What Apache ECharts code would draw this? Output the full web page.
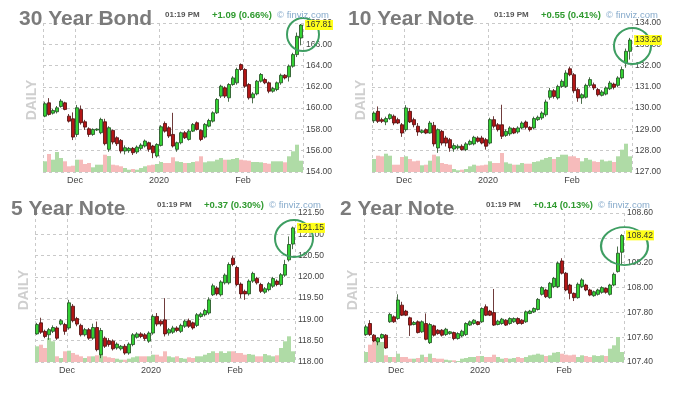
<!DOCTYPE html>
<html><head><meta charset="utf-8">
<script src="https://cdn.jsdelivr.net/npm/echarts@6/dist/echarts.min.js"></script>
<style>html,body{margin:0;padding:0;background:#fff}#c{width:673px;height:393px}</style>
</head><body><div id="c"></div>
<script>
// ---- trading days (category axis) ----
const dates = [
 '2019-11-18','2019-11-19','2019-11-20','2019-11-21','2019-11-22','2019-11-25','2019-11-26','2019-11-27',
 '2019-12-02','2019-12-03','2019-12-04','2019-12-05','2019-12-06','2019-12-09','2019-12-10','2019-12-11','2019-12-12','2019-12-13',
 '2019-12-16','2019-12-17','2019-12-18','2019-12-19','2019-12-20','2019-12-23','2019-12-24','2019-12-26','2019-12-27','2019-12-30','2019-12-31',
 '2020-01-02','2020-01-03','2020-01-06','2020-01-07','2020-01-08','2020-01-09','2020-01-10','2020-01-13','2020-01-14','2020-01-15','2020-01-16',
 '2020-01-17','2020-01-21','2020-01-22','2020-01-23','2020-01-24','2020-01-27','2020-01-28','2020-01-29','2020-01-30','2020-01-31',
 '2020-02-03','2020-02-04','2020-02-05','2020-02-06','2020-02-07','2020-02-10','2020-02-11','2020-02-12','2020-02-13','2020-02-14',
 '2020-02-18','2020-02-19','2020-02-20','2020-02-21','2020-02-24'
];

// ---- 30 Year Bond ----
const t30Open = [159.25,160.5,159.53,159.66,160.16,160.5,159.25,159.0,157.53,159.88,
 158.72,158.06,157.53,157.94,157.69,158.72,156.13,157.91,157.22,156.97,
 155.97,156.0,156.22,155.88,156.22,156.44,156.75,156.44,155.5,156.5,
 158.56,158.16,157.53,156.13,156.75,157.69,157.06,157.84,158.63,157.91,
 157.28,158.31,158.78,159.56,161.13,161.91,160.97,162.22,162.38,164.09,
 163.63,162.22,160.97,161.34,162.53,162.69,162.38,161.59,161.75,162.38,
 163.09,162.94,163.94,165.03,166.59];
const t30Close = [160.41,159.41,159.78,160.03,160.66,159.88,158.78,157.28,160.03,158.63,
 158.22,157.53,158.0,158.03,158.94,156.66,158.16,156.81,156.66,155.97,
 156.28,156.22,155.81,156.34,156.53,156.91,156.13,155.81,156.59,158.25,
 157.84,157.38,156.44,156.75,157.69,157.22,157.84,158.47,158.0,157.06,
 158.47,158.84,159.56,160.81,162.06,161.13,162.22,162.84,163.63,163.63,
 162.06,160.97,161.34,162.53,163.16,162.38,161.59,161.84,162.38,163.09,
 162.84,163.94,165.03,166.75,167.81];
const t30Low = [159.15,159.3,159.4,159.5,160.05,159.8,158.65,157.0,157.3,158.45,
 157.95,157.3,157.4,157.85,157.55,156.5,155.9,156.6,156.45,155.75,
 155.65,155.8,155.6,155.7,156.05,156.3,155.9,155.3,155.35,156.4,
 157.7,157.2,156.3,155.9,156.6,157.1,156.95,157.75,157.9,156.9,
 157.15,158.2,158.65,159.45,160.95,160.95,160.6,162.1,162.2,163.5,
 161.9,160.8,160.45,161.2,162.4,162.25,161.4,161.45,161.6,162.2,
 162.7,162.5,163.8,164.8,165.9];
const t30High = [160.6,160.94,159.95,160.2,160.85,160.6,159.45,159.6,160.3,160.25,
 158.9,158.2,158.1,158.1,159.1,159.0,158.3,158.0,157.35,157.1,
 156.5,156.35,156.35,156.5,156.7,157.05,156.85,156.55,156.7,158.4,
 158.75,158.3,159.56,156.85,157.8,157.85,158.0,158.6,158.75,158.0,
 158.6,159.0,159.7,160.95,162.2,162.05,162.35,163.0,163.8,164.2,
 163.75,162.35,161.5,162.65,163.3,162.85,162.5,162.0,162.5,163.25,
 163.2,164.1,165.2,167.1,167.9];
const t30Vol = [107,180,123,200,140,107,57,63,123,123,
 80,90,47,73,73,173,160,73,67,57,
 40,23,30,23,40,57,67,73,80,100,
 90,90,147,107,100,90,90,100,107,157,
 97,107,107,123,140,123,123,130,140,123,
 117,113,100,100,97,90,83,107,107,107,
 97,157,207,273,113];

// ---- 10 Year Note ----
const t10Open = [129.41,129.85,129.46,129.35,129.51,129.62,129.46,129.22,128.99,129.85,
 129.46,129.15,128.86,128.99,128.83,129.19,128.13,128.91,128.6,128.52,
 128.08,128.13,128.21,128.05,128.3,128.32,128.6,128.6,128.52,128.36,
 129.46,129.22,129.22,128.72,128.79,129.04,128.88,129.07,129.35,129.1,
 129.07,129.46,129.54,129.69,130.51,130.82,130.48,131.02,131.02,131.85,
 131.57,130.87,130.48,130.51,131.07,131.1,130.87,130.6,130.66,130.91,
 131.13,131.07,131.42,132.12,132.67];
const t10Close = [129.77,129.38,129.38,129.51,129.69,129.3,129.3,128.83,130.01,129.35,
 129.22,128.88,128.94,128.83,129.3,128.32,128.99,128.36,128.36,128.13,
 128.24,128.21,128.05,128.32,128.44,128.63,128.44,128.36,128.21,129.46,
 129.15,128.99,128.68,128.91,129.07,128.83,129.07,129.3,129.1,128.99,
 129.51,129.57,129.77,130.29,130.82,130.55,131.02,131.26,131.65,131.57,
 130.82,130.48,130.63,131.07,131.34,130.95,130.63,130.76,130.95,131.18,
 130.98,131.42,131.81,132.67,133.2];
const t10Low = [129.3,129.3,129.3,129.2,129.45,129.2,129.25,128.65,128.9,129.3,
 129.1,128.7,128.8,128.78,128.8,128.2,127.9,128.25,128.2,127.95,
 127.95,128.05,128.0,127.98,128.25,128.25,128.38,128.3,128.05,128.3,
 129.05,128.9,128.55,128.65,128.7,128.78,128.8,129.0,129.0,128.9,
 129.0,129.4,129.45,129.6,130.4,130.45,130.4,130.95,130.95,131.5,
 130.7,130.3,130.2,130.45,131.0,130.85,130.55,130.55,130.6,130.85,
 130.88,130.98,131.35,131.9,132.28];
const t10High = [129.85,130.08,129.55,129.6,129.75,129.7,129.55,129.3,130.14,130.0,
 129.55,129.3,129.0,129.05,129.4,129.35,129.05,128.98,128.7,128.6,
 128.35,128.3,128.3,128.4,128.52,128.7,128.68,128.7,128.6,129.55,
 129.62,129.3,130.16,129.0,129.15,129.1,129.15,129.38,129.42,129.15,
 129.6,129.65,129.85,130.4,130.95,130.9,131.1,131.35,131.78,131.95,
 131.65,130.95,130.7,131.15,131.45,131.2,130.95,130.85,131.02,131.28,
 131.2,131.5,131.95,132.8,133.3];
const t10Vol = [130,163,157,183,163,73,73,150,157,130,
 107,113,67,73,113,173,157,90,80,73,
 30,17,23,30,57,73,63,67,73,107,
 90,90,190,97,83,73,73,90,83,83,
 100,107,123,140,150,130,150,173,173,157,
 157,140,107,140,123,107,100,123,107,113,
 100,157,223,283,157];

// ---- 5 Year Note ----
const t5Open = [118.66,118.92,118.72,118.64,118.72,118.80,118.89,118.88,118.80,119.31,
 119.02,118.86,118.64,118.76,118.56,118.81,118.17,118.56,118.50,118.49,
 118.33,118.31,118.37,118.21,118.41,118.58,118.66,118.64,118.49,118.68,
 119.07,118.96,118.99,118.68,118.70,118.80,118.72,118.84,118.97,118.92,
 118.86,119.07,119.11,119.15,119.58,119.74,119.58,119.86,119.86,120.44,
 120.22,119.83,119.66,119.60,119.90,119.96,119.82,119.64,119.70,119.78,
 119.90,119.82,120.04,120.40,120.77];
const t5Close = [118.88,118.70,118.60,118.76,118.81,118.56,118.97,118.72,119.39,118.97,
 118.89,118.64,118.76,118.56,118.81,118.29,118.74,118.37,118.41,118.31,
 118.42,118.37,118.21,118.42,118.64,118.66,118.60,118.55,118.68,119.07,
 118.89,118.89,118.66,118.76,118.80,118.74,118.86,118.96,118.84,118.80,
 119.11,119.13,119.21,119.46,119.79,119.60,119.88,120.04,120.29,120.29,
 119.82,119.60,119.60,119.90,120.08,119.86,119.66,119.72,119.84,119.96,
 119.82,120.05,120.29,120.76,121.15];
const t5Low = [118.64,118.66,118.56,118.52,118.68,118.52,118.86,118.64,118.76,118.93,
 118.84,118.60,118.60,118.52,118.52,118.25,118.09,118.33,118.36,118.27,
 118.29,118.27,118.17,118.17,118.37,118.55,118.56,118.50,118.45,118.64,
 118.84,118.84,118.60,118.62,118.66,118.70,118.68,118.80,118.80,118.76,
 118.82,119.04,119.07,119.11,119.55,119.56,119.54,119.82,119.82,120.25,
 119.78,119.50,119.46,119.56,119.86,119.82,119.62,119.60,119.66,119.74,
 119.78,119.78,120.00,120.36,120.65];
const t5High = [118.92,119.04,118.76,118.80,118.86,118.84,119.01,118.92,119.46,119.36,
 119.06,118.90,118.80,118.80,118.90,118.95,118.80,118.60,118.56,118.53,
 118.46,118.40,118.42,118.46,118.68,118.70,118.70,118.68,118.72,119.12,
 119.15,119.00,119.50,118.80,118.85,118.84,118.90,119.00,119.02,118.95,
 119.15,119.17,119.25,119.52,119.84,119.78,119.92,120.08,120.34,120.50,
 120.26,119.87,119.70,119.94,120.12,120.00,119.86,119.76,119.88,120.00,
 119.94,120.09,120.40,120.95,121.18];
const t5Vol = [157,173,140,240,207,57,40,107,113,90,
 73,57,40,57,57,67,90,57,47,40,
 33,23,23,33,47,57,57,57,57,73,
 73,57,107,57,47,57,40,33,47,40,
 57,57,73,90,107,90,107,90,107,107,
 90,90,73,80,73,57,57,80,67,57,
 67,140,207,257,107];

// ---- 2 Year Note ----
const t2Open = [107.621,107.710,107.616,107.562,107.594,107.616,107.724,107.764,107.750,107.858,
 107.810,107.756,107.702,107.724,107.643,107.710,107.556,107.691,107.656,107.656,
 107.621,107.629,107.637,107.589,107.610,107.621,107.697,107.710,107.724,107.724,
 107.845,107.810,107.798,107.702,107.710,107.737,107.710,107.724,107.750,107.737,
 107.724,107.791,107.804,107.823,107.945,107.980,107.918,108.007,108.007,108.214,
 108.115,108.020,107.953,107.918,108.007,108.020,107.980,107.934,107.945,107.961,
 107.993,107.945,108.020,108.128,108.284];
const t2Close = [107.683,107.621,107.570,107.594,107.621,107.513,107.783,107.724,107.899,107.777,
 107.777,107.697,107.718,107.637,107.724,107.583,107.702,107.616,107.629,107.616,
 107.664,107.643,107.589,107.629,107.648,107.710,107.724,107.737,107.702,107.831,
 107.777,107.777,107.697,107.729,107.745,107.697,107.750,107.750,107.710,107.710,
 107.804,107.810,107.831,107.904,107.999,107.926,108.034,108.074,108.195,108.115,
 107.980,107.953,107.918,108.026,108.061,107.980,107.939,107.966,107.980,107.999,
 107.961,108.020,108.106,108.276,108.419];
const t2Low = [107.61,107.61,107.56,107.535,107.585,107.505,107.715,107.715,107.74,107.77,
 107.77,107.61,107.695,107.63,107.635,107.575,107.545,107.605,107.62,107.605,
 107.61,107.62,107.575,107.58,107.60,107.61,107.69,107.70,107.695,107.715,
 107.77,107.77,107.69,107.695,107.70,107.69,107.70,107.715,107.70,107.70,
 107.715,107.785,107.795,107.815,107.935,107.915,107.91,107.995,107.995,108.105,
 107.97,107.905,107.891,107.91,107.995,107.97,107.93,107.925,107.935,107.95,
 107.95,107.935,108.01,108.12,108.18];
const t2High = [107.70,107.737,107.625,107.60,107.63,107.625,107.795,107.775,107.945,107.885,
 107.82,107.765,107.73,107.735,107.735,107.791,107.715,107.70,107.665,107.665,
 107.675,107.65,107.645,107.64,107.66,107.72,107.735,107.745,107.73,107.84,
 107.864,107.82,107.988,107.74,107.755,107.745,107.76,107.76,107.76,107.745,
 107.815,107.82,107.84,107.915,108.01,107.99,108.045,108.085,108.21,108.236,
 108.125,108.03,107.96,108.04,108.075,108.03,107.99,107.975,107.99,108.01,
 108.00,108.03,108.12,108.33,108.43];
const t2Vol = [100,173,207,217,200,67,50,50,83,50,
 50,33,33,40,73,50,83,40,33,33,
 23,17,17,10,33,40,50,50,60,60,
 50,50,73,50,33,40,33,40,50,40,
 50,67,73,83,73,60,67,93,100,83,
 73,67,73,50,67,60,50,67,60,67,
 60,133,167,250,100];

// ---- panel setup ----
const panels = [
 {title:'30 Year Bond', change:'+1.09 (0.66%)', open:t30Open, close:t30Close, low:t30Low, high:t30High, vol:t30Vol,
  yMin:154, yMax:168, yStep:2, left:43, top:23, circle:{value:166.92, size:[32,33], offset:[2,0]}},
 {title:'10 Year Note', change:'+0.55 (0.41%)', open:t10Open, close:t10Close, low:t10Low, high:t10High, vol:t10Vol,
  yMin:127, yMax:134, yStep:1, left:372, top:23, circle:{value:132.92, size:[37,36], offset:[2.5,0]}},
 {title:'5 Year Note', change:'+0.37 (0.30%)', open:t5Open, close:t5Close, low:t5Low, high:t5High, vol:t5Vol,
  yMin:118, yMax:121.5, yStep:0.5, left:35, top:213, circle:{value:120.90, size:[38,37], offset:[1,0]}},
 {title:'2 Year Note', change:'+0.14 (0.13%)', open:t2Open, close:t2Close, low:t2Low, high:t2High, vol:t2Vol,
  yMin:107.4, yMax:108.6, yStep:0.2, left:364, top:213, circle:{value:108.334, size:[47,38], offset:[2.5,0]}}
];
const timeText = '01:19 PM';

const FONT = '"Liberation Sans", Arial, sans-serif';
const W = 260, H = 149;
const UP = '#33d133', DN = '#b31616', UP_B = '#1f4a1f', DN_B = '#4a0a0a';
const VOL_UP = '#afdba6', VOL_DN = '#f6bbbb';
const GRIDC = '#c9c9c9';
const monthNames = ['Jan','Feb','Mar','Apr','May','Jun','Jul','Aug','Sep','Oct','Nov','Dec'];
function isMonthStart(i){ return i > 0 && i < dates.length && dates[i].slice(0,7) !== dates[i-1].slice(0,7); }
function monthLabel(d){ const m = +d.slice(5,7); return m === 1 ? d.slice(0,4) : monthNames[m-1]; }

const grid = [], xAxis = [], yAxis = [], series = [], elements = [];
panels.forEach((p, k) => {
  const last = p.close.length - 1;
  grid.push({left:p.left, top:p.top, width:W, height:H, show:false});
  xAxis.push({
    type:'category', gridIndex:k, data:dates, boundaryGap:true,
    axisLine:{show:false}, axisTick:{show:false},
    axisLabel:{interval:(i)=>isMonthStart(i), formatter:(v)=>monthLabel(v), fontSize:9, color:'#444',
      margin:4, fontFamily:FONT, padding:[0,4,0,0]},
    splitLine:{show:true, interval:(i)=> i === 0 || isMonthStart(i), lineStyle:{color:GRIDC, type:[3,3], width:1}}
  });
  yAxis.push({
    type:'value', gridIndex:k, position:'right', min:p.yMin, max:p.yMax, interval:p.yStep,
    axisLine:{show:false}, axisTick:{show:false},
    axisLabel:{formatter:(v)=>v.toFixed(2), fontSize:8.5, color:'#444', margin:3, fontFamily:FONT},
    splitLine:{show:true, lineStyle:{color:GRIDC, type:[3,3], width:1}}
  });
  yAxis.push({type:'value', gridIndex:k, min:0, max:1490, show:false, splitLine:{show:false}});
  series.push({
    type:'bar', xAxisIndex:k, yAxisIndex:2*k+1, barCategoryGap:'0%', barGap:'0%', z:1, silent:true,
    data:p.vol.map((v,i)=>({value:v, itemStyle:{color: p.close[i] >= p.open[i] ? VOL_UP : VOL_DN}}))
  });
  series.push({
    type:'candlestick', xAxisIndex:k, yAxisIndex:2*k, z:2, barWidth:3.6, silent:true,
    data:p.open.map((o,i)=>[o, p.close[i], p.low[i], p.high[i]]),
    itemStyle:{color:UP, color0:DN, borderColor:UP_B, borderColor0:DN_B, borderWidth:0.8},
    markLine:{
      silent:true, symbol:['none','none'], animation:false,
      lineStyle:{color:'rgba(0,0,0,0)', width:1},
      label:{show:true, position:'end', distance:2, formatter:p.close[last].toFixed(2),
        backgroundColor:'#ffff1a', color:'#333', fontSize:8.5, fontFamily:FONT, padding:[1,1,0,1]},
      data:[{yAxis:p.close[last]}]
    },
    markPoint:{
      silent:true, animation:false, symbol:'circle', symbolSize:p.circle.size, symbolOffset:p.circle.offset,
      itemStyle:{color:'rgba(0,0,0,0)', borderColor:'#3e9e62', borderWidth:2},
      label:{show:false},
      data:[{coord:[last, p.circle.value]}]
    }
  });
  // texts
  elements.push({type:'text', x:p.left-24, y:p.top-3.5, z:10,
    style:{text:p.title, font:'bold 21px '+FONT, fill:'#7b7b7b', align:'left', verticalAlign:'middle'}});
  elements.push({type:'text', x:p.left+122, y:p.top-8, z:10,
    style:{text:timeText, font:'bold 8px '+FONT, fill:'#555', align:'left', verticalAlign:'middle'}});
  elements.push({type:'text', x:p.left+169, y:p.top-8, z:10,
    style:{text:p.change, font:'bold 9.5px '+FONT, fill:'#2f9a2f', align:'left', verticalAlign:'middle'}});
  elements.push({type:'text', x:p.left+234, y:p.top-8, z:10,
    style:{text:'\u00a9 finviz.com', font:'9.5px '+FONT, fill:'#86aacb', align:'left', verticalAlign:'middle'}});
  elements.push({type:'text', x:p.left-11, y:p.top+77, rotation:Math.PI/2, z:10,
    style:{text:'DAILY', font:'bold 14px '+FONT, fill:'#cfcfcf', align:'center', verticalAlign:'middle'}});
});

const chart = echarts.init(document.getElementById('c'));
chart.setOption({
  animation:false,
  backgroundColor:'#fff',
  grid, xAxis, yAxis, series,
  graphic:{elements}
});
</script>
</body></html>
